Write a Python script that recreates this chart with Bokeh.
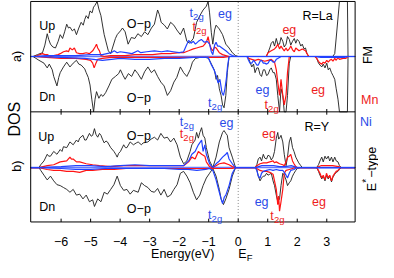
import numpy as np
from bokeh.plotting import figure
from bokeh.models import Range1d, Label
from bokeh.core.properties import value
from bokeh.embed import file_html
from bokeh.resources import INLINE

# ---------------- data (energy in eV, DOS in arbitrary units) ----------------
TICKS = [-6, -5, -4, -3, -2, -1, 0, 1, 2, 3]
TICK_LABELS = ["\u22126", "\u22125", "\u22124", "\u22123", "\u22122", "\u22121", "0", "1", "2", "3"]

# panel a) R=La, FM
A_TOT_UP = [(-6.95,0),(-6.80,2),(-6.63,4),(-6.55,12),(-6.47,24),(-6.42,18),(-6.36,13),(-6.28,10),(-6.19,9),(-6.10,16),
    (-6.03,23),(-5.95,19),(-5.88,26),(-5.81,34),(-5.75,30),(-5.70,31),(-5.62,27),(-5.55,29),(-5.48,23),(-5.40,30),
    (-5.32,36),(-5.25,33),(-5.20,39),(-5.15,43),(-5.08,40),(-5.02,48),(-4.95,46),(-4.90,52),(-4.85,54),(-4.78,62),
    (-4.72,50),(-4.65,43),(-4.58,30),(-4.54,23),(-4.45,12),(-4.40,6),(-4.32,3),(-4.25,10),(-4.16,19),(-4.10,23),
    (-3.99,27),(-3.92,30),(-3.83,26),(-3.73,13),(-3.62,20),(-3.50,19),(-3.40,24),(-3.28,21),(-3.17,26),(-3.06,23),
    (-2.94,30),(-2.84,34),(-2.73,49),(-2.67,44),(-2.61,36),(-2.50,33),(-2.40,29),(-2.29,36),(-2.18,33),(-2.08,28),
    (-1.96,23),(-1.85,30),(-1.74,16),(-1.65,14),(-1.52,19),(-1.41,36),(-1.30,43),(-1.19,49),(-1.08,53),(-1.02,60),
    (-0.97,46),(-0.91,25),(-0.86,13),(-0.80,28),(-0.75,33),(-0.64,29),(-0.53,23),(-0.42,13),(-0.31,9),(-0.20,4),
    (-0.09,1),(0.0,0),(0.95,0),(1.01,4),(1.07,9),(1.12,14),(1.18,16),(1.23,11),(1.29,19),(1.34,13),(1.40,13),
    (1.45,20),(1.51,16),(1.56,10),(1.62,13),(1.67,21),(1.73,18),(1.78,12),(1.84,16),(1.90,19),(1.95,14),(2.00,18),
    (2.06,16),(2.12,11),(2.17,13),(2.23,8),(2.28,9),(2.33,3),(2.39,0),(3.20,0),(3.27,3),(3.35,30),(3.43,62),
    (3.70,62),(3.72,0),(3.96,0)]
A_TOT_DN = [(-6.95,0),(-6.85,-2),(-6.75,-4),(-6.58,-7),(-6.47,-12),(-6.40,-8),(-6.30,-14),(-6.25,-21),(-6.14,-31),
    (-6.08,-22),(-6.03,-17),(-5.92,-11),(-5.81,-6),(-5.70,-11),(-5.59,-7),(-5.48,-4),(-5.40,-8),(-5.32,-9),(-5.20,-13),
    (-5.15,-17),(-5.08,-22),(-5.02,-30),(-4.96,-45),(-4.90,-65),(-4.85,-45),(-4.80,-37),(-4.72,-44),(-4.65,-40),
    (-4.58,-42),(-4.49,-38),(-4.38,-31),(-4.28,-24),(-4.16,-21),(-4.05,-18),(-3.99,-14),(-3.90,-20),(-3.83,-24),
    (-3.72,-18),(-3.61,-21),(-3.50,-14),(-3.40,-18),(-3.28,-24),(-3.17,-16),(-3.06,-11),(-2.94,-17),(-2.84,-14),
    (-2.73,-21),(-2.62,-27),(-2.51,-31),(-2.40,-41),(-2.29,-36),(-2.18,-27),(-2.08,-22),(-1.96,-11),(-1.85,-17),
    (-1.74,-21),(-1.63,-14),(-1.55,-6),(-1.45,-2),(-1.30,-1),(-1.10,-1),(-1.00,-2),(-0.97,-4),(-0.86,-11),(-0.80,-15),
    (-0.75,-24),(-0.70,-20),(-0.64,-34),(-0.58,-41),(-0.53,-51),(-0.48,-54),(-0.42,-41),(-0.37,-17),(-0.31,0),
    (0.30,0),(0.35,-2),(0.40,-6),(0.46,-11),(0.52,-8),(0.57,-17),(0.63,-12),(0.68,-12),(0.74,-19),(0.79,-21),
    (0.85,-14),(0.90,-14),(0.96,-20),(1.01,-19),(1.07,-14),(1.12,-12),(1.18,-17),(1.23,-17),(1.29,-24),(1.34,-41),
    (1.40,-65),(1.45,-34),(1.51,-41),(1.56,-65),(1.62,-65),(1.67,-41),(1.73,-7),(1.78,0),(2.60,0),(2.66,-2),
    (2.72,-7),(2.77,-9),(2.83,-11),(2.88,-8),(2.94,-12),(3.00,-7),(3.05,-14),(3.10,-12),(3.16,-17),(3.21,-20),
    (3.27,-24),(3.32,-34),(3.38,-45),(3.43,-65),(3.70,-65),(3.72,0),(3.96,0)]
A_MN_UP = [(-7.03,0),(-6.90,0),(-6.80,1),(-6.63,3),(-6.55,2),(-6.47,2),(-6.36,0),(-6.25,1),(-6.10,2),(-6.03,3),
    (-5.92,5),(-5.81,6),(-5.75,5),(-5.70,9),(-5.62,7),(-5.55,9),(-5.48,4),(-5.37,3),(-5.26,3),(-5.15,4),(-5.04,3),
    (-4.93,6),(-4.85,10),(-4.80,13),(-4.76,9),(-4.70,6),(-4.65,1),(-4.54,0),(-4.32,1),(-4.10,1),(-3.83,1),(-3.50,2),
    (-3.20,2),(-2.90,2),(-2.60,3),(-2.30,3),(-2.00,4),(-1.85,4),(-1.68,6),(-1.52,8),(-1.41,9),(-1.30,10),(-1.19,11),
    (-1.13,13),(-1.07,16),(-1.02,21),(-0.97,13),(-0.91,8),(-0.86,6),(-0.80,10),(-0.75,9),(-0.64,4),(-0.53,2),
    (-0.42,1),(-0.31,0),(0.95,0),(1.01,4),(1.12,6),(1.23,8),(1.29,10),(1.34,13),(1.40,8),(1.45,11),(1.51,8),
    (1.56,6),(1.62,9),(1.67,6),(1.73,8),(1.78,11),(1.84,7),(1.90,5),(1.95,9),(2.06,6),(2.17,8),(2.28,6),(2.33,3),
    (2.39,0),(3.96,0)]
A_MN_DN = [(-7.03,0),(-6.90,0),(-6.50,-1),(-6.00,-2),(-5.50,-2),(-5.15,-3),(-5.00,-4),(-4.93,-7),(-4.88,-12),
    (-4.82,-7),(-4.76,-3),(-4.60,-2),(-4.30,-1),(-3.50,-1),(-2.50,-1),(-1.50,-1),(-1.00,-1),(-0.50,-1),(-0.31,0),
    (0.30,0),(0.35,-2),(0.46,-3),(0.57,-4),(0.68,-3),(0.79,-4),(0.90,-5),(1.01,-4),(1.12,-3),(1.23,-6),(1.29,-14),
    (1.34,-27),(1.40,-41),(1.45,-24),(1.51,-41),(1.56,-51),(1.62,-41),(1.67,-17),(1.73,0),(2.60,0),(2.66,-2),
    (2.72,-5),(2.77,-7),(2.83,-8),(2.88,-6),(2.94,-7),(3.00,-4),(3.05,-6),(3.10,-4),(3.16,-3),(3.21,-5),(3.27,-2),
    (3.32,-4),(3.38,-1),(3.43,-3),(3.55,-2),(3.65,-2),(3.72,0),(3.96,0)]
A_NI_UP = [(-7.03,0),(-6.90,0),(-6.50,1),(-6.00,1),(-5.50,1),(-5.00,2),(-4.60,2),(-4.30,4),(-4.20,6),(-4.10,4),
    (-4.00,5),(-3.80,4),(-3.60,3),(-3.40,6),(-3.30,4),(-3.10,5),(-2.84,6),(-2.60,5),(-2.40,6),(-2.20,5),(-2.00,4),
    (-1.85,5),(-1.75,12),(-1.68,17),(-1.60,14),(-1.52,16),(-1.45,13),(-1.35,16),(-1.25,18),(-1.15,15),(-1.05,16),
    (-0.97,13),(-0.91,5),(-0.86,2),(-0.80,12),(-0.75,15),(-0.70,11),(-0.64,11),(-0.55,9),(-0.42,6),(-0.31,3),
    (-0.20,1),(-0.09,0),(3.96,0)]
A_NI_DN = [(-7.03,0),(-6.90,0),(-6.00,-1),(-5.20,-2),(-4.90,-3),(-4.60,-4),(-4.30,-3),(-4.00,-2),(-3.50,-3),
    (-3.00,-3),(-2.50,-2),(-2.00,-2),(-1.50,-1),(-1.02,-1),(-0.92,-8),(-0.82,-14),(-0.75,-20),(-0.68,-28),
    (-0.62,-24),(-0.55,-38),(-0.50,-41),(-0.45,-34),(-0.40,-23),(-0.36,-10),(-0.31,0),(0.30,0),(0.35,-4),(0.40,-7),
    (0.46,-7),(0.52,-4),(0.57,-6),(0.63,-9),(0.68,-9),(0.74,-5),(0.79,-4),(0.85,-7),(0.90,-7),(0.96,-8),(1.01,-7),
    (1.07,-4),(1.12,-4),(1.18,-6),(1.23,-6),(1.29,-3),(1.34,-2),(1.45,0),(2.60,0),(2.80,-1),(3.00,-1),(3.30,-1),
    (3.60,-1),(3.72,0),(3.96,0)]

# panel b) R=Y, E*-type
B_TOT_UP = [(-7.03,0),(-6.75,0),(-6.69,3),(-6.58,7),(-6.47,14),(-6.42,12),(-6.36,12),(-6.25,17),(-6.14,14),(-6.03,19),
    (-5.97,17),(-5.92,22),(-5.81,21),(-5.70,27),(-5.59,24),(-5.48,29),(-5.42,27),(-5.37,31),(-5.26,34),(-5.20,29),
    (-5.15,29),(-5.04,36),(-4.98,33),(-4.93,34),(-4.87,41),(-4.82,35),(-4.76,32),(-4.70,36),(-4.65,34),(-4.60,30),
    (-4.54,26),(-4.48,28),(-4.43,27),(-4.32,21),(-4.21,17),(-4.15,14),(-4.10,11),(-4.05,15),(-3.99,17),(-3.88,24),
    (-3.82,21),(-3.77,21),(-3.66,27),(-3.55,24),(-3.45,26),(-3.39,27),(-3.28,24),(-3.22,26),(-3.06,27),(-2.95,30),
    (-2.84,32),(-2.73,29),(-2.62,36),(-2.51,31),(-2.40,32),(-2.29,27),(-2.18,31),(-2.07,24),(-1.96,11),(-1.85,4),
    (-1.74,7),(-1.63,17),(-1.57,24),(-1.46,29),(-1.41,37),(-1.35,31),(-1.30,37),(-1.24,42),(-1.19,34),(-1.13,31),
    (-1.08,21),(-0.97,7),(-0.86,0),(-0.75,11),(-0.64,27),(-0.53,37),(-0.48,39),(-0.42,36),(-0.37,34),(-0.31,21),
    (-0.20,11),(-0.09,0),(0.58,0),(0.63,3),(0.68,9),(0.74,11),(0.79,7),(0.85,14),(0.90,10),(0.96,9),(1.01,13),
    (1.07,12),(1.12,8),(1.18,11),(1.23,17),(1.29,31),(1.34,37),(1.37,30),(1.40,31),(1.45,34),(1.51,27),(1.56,14),
    (1.62,2),(1.67,11),(1.73,27),(1.78,32),(1.84,21),(1.89,17),(1.95,11),(2.00,8),(2.05,5),(2.12,2),(2.17,0),
    (2.66,0),(2.72,3),(2.77,7),(2.83,11),(2.88,6),(2.94,12),(2.99,9),(3.05,12),(3.10,7),(3.16,11),(3.21,6),
    (3.27,11),(3.32,7),(3.38,6),(3.43,2),(3.49,0),(3.96,0)]
B_TOT_DN = [(-7.03,0),(-6.75,0),(-6.69,-3),(-6.58,-8),(-6.47,-13),(-6.36,-9),(-6.25,-14),(-6.14,-18),(-6.03,-19),
    (-5.92,-21),(-5.81,-23),(-5.70,-26),(-5.59,-23),(-5.48,-29),(-5.37,-28),(-5.26,-33),(-5.15,-29),(-5.04,-36),
    (-4.93,-34),(-4.87,-41),(-4.76,-33),(-4.65,-36),(-4.54,-26),(-4.43,-28),(-4.32,-23),(-4.21,-18),(-4.10,-9),
    (-3.99,-19),(-3.88,-24),(-3.77,-23),(-3.66,-28),(-3.55,-24),(-3.39,-26),(-3.28,-16),(-3.17,-19),(-3.06,-21),
    (-2.95,-25),(-2.84,-26),(-2.73,-22),(-2.62,-29),(-2.51,-23),(-2.40,-31),(-2.29,-29),(-2.18,-23),(-2.07,-18),
    (-1.96,-6),(-1.85,-4),(-1.74,-9),(-1.63,-16),(-1.52,-26),(-1.41,-34),(-1.30,-29),(-1.19,-19),(-1.08,-11),
    (-0.97,-6),(-0.86,-1),(-0.75,-9),(-0.64,-23),(-0.58,-33),(-0.50,-39),(-0.42,-33),(-0.31,-23),(-0.20,-9),
    (-0.09,0),(0.58,0),(0.63,-2),(0.68,-9),(0.74,-14),(0.79,-11),(0.85,-9),(0.90,-9),(0.96,-6),(1.01,-8),(1.07,-7),
    (1.12,-6),(1.18,-14),(1.23,-19),(1.29,-29),(1.34,-36),(1.40,-33),(1.45,-19),(1.51,-6),(1.56,-8),(1.62,-13),
    (1.67,-19),(1.73,-16),(1.78,-14),(1.84,-9),(1.89,-6),(1.95,-3),(2.00,-1),(2.10,0),(2.66,0),(2.72,-4),(2.77,-8),
    (2.83,-12),(2.88,-9),(2.94,-14),(2.99,-8),(3.05,-12),(3.10,-9),(3.16,-15),(3.21,-10),(3.27,-7),(3.32,-5),
    (3.38,-4),(3.43,-2),(3.49,0),(3.96,0)]
B_MN_UP = [(-7.03,0),(-6.75,0),(-6.47,2),(-6.25,3),(-6.03,6),(-5.81,7),(-5.70,11),(-5.65,9),(-5.59,9),(-5.48,6),
    (-5.37,6),(-5.15,4),(-4.93,3),(-4.70,2),(-4.32,1),(-3.88,2),(-3.50,2),(-3.00,2),(-2.50,2),(-2.00,2),(-1.85,2),
    (-1.68,6),(-1.57,11),(-1.46,9),(-1.35,17),(-1.24,14),(-1.13,12),(-1.08,6),(-0.97,1),(-0.86,0),(-0.75,2),
    (-0.64,4),(-0.48,5),(-0.31,3),(-0.20,1),(-0.09,0),(0.58,0),(0.63,2),(0.74,4),(0.85,5),(0.96,5),(1.07,6),
    (1.18,7),(1.23,5),(1.29,6),(1.40,4),(1.51,3),(1.56,2),(1.62,6),(1.67,11),(1.73,12),(1.78,14),(1.84,7),(1.89,4),
    (1.95,1),(2.00,0),(2.66,0),(2.80,2),(3.00,2),(3.20,2),(3.40,1),(3.49,0),(3.96,0)]
B_MN_DN = [(-7.03,0),(-6.75,0),(-6.47,-2),(-6.25,-3),(-6.03,-3),(-5.81,-4),(-5.59,-4),(-5.37,-5),(-5.15,-3),
    (-4.93,-3),(-4.60,-2),(-4.20,-2),(-3.80,-1),(-3.00,-1),(-2.00,-1),(-1.00,-1),(-0.50,-1),(-0.20,-1),(-0.09,0),
    (0.58,0),(0.63,-1),(0.74,-3),(0.85,-4),(0.96,-4),(1.07,-5),(1.18,-7),(1.23,-14),(1.29,-23),(1.34,-39),(1.37,-30),
    (1.40,-46),(1.45,-36),(1.51,-23),(1.56,-6),(1.62,-3),(1.73,-2),(1.84,-1),(1.95,0),(2.66,0),(2.72,-3),(2.77,-6),
    (2.83,-11),(2.88,-8),(2.94,-13),(2.99,-6),(3.05,-11),(3.10,-8),(3.16,-14),(3.21,-9),(3.27,-6),(3.32,-4),
    (3.38,-3),(3.43,-1),(3.49,0),(3.96,0)]
B_NI_UP = [(-7.03,0),(-6.75,0),(-6.00,1),(-5.50,2),(-5.00,2),(-4.50,1),(-4.00,2),(-3.50,3),(-3.00,2),(-2.50,2),
    (-2.00,2),(-1.85,2),(-1.68,7),(-1.57,14),(-1.46,17),(-1.35,24),(-1.24,29),(-1.19,17),(-1.13,24),(-1.08,14),
    (-0.97,4),(-0.86,0),(-0.75,4),(-0.64,7),(-0.53,11),(-0.42,14),(-0.37,16),(-0.31,9),(-0.20,4),(-0.09,0),
    (0.58,0),(0.80,2),(1.00,2),(1.20,2),(1.40,1),(1.60,1),(1.80,2),(2.00,0),(3.96,0)]
B_NI_DN = [(-7.03,0),(-6.75,0),(-6.00,-1),(-5.50,-2),(-5.00,-2),(-4.50,-1),(-4.00,-1),(-3.50,-1),(-2.50,-1),
    (-2.00,-2),(-1.70,-2),(-1.40,-3),(-1.10,-2),(-0.97,-1),(-0.86,-3),(-0.75,-13),(-0.64,-26),(-0.58,-33),
    (-0.53,-38),(-0.47,-31),(-0.42,-29),(-0.31,-19),(-0.20,-6),(-0.09,0),(0.58,0),(0.63,-3),(0.68,-9),(0.74,-11),
    (0.79,-6),(0.85,-4),(0.96,-3),(1.07,-2),(1.18,-3),(1.29,-2),(1.40,-3),(1.51,-3),(1.56,-5),(1.62,-8),(1.67,-11),
    (1.73,-6),(1.78,-3),(1.89,-2),(2.00,0),(3.96,0)]

# ---------------- styling / geometry ----------------
FONT = "Liberation Sans"
BLACK = "#1c1c1c"
RED = "#ff1414"
BLUE = "#2242ff"
RED_T = "#ee1c1c"
BLUE_T = "#2a4ae8"
FS = "12.5px"
FS_SUB = "9.5px"


# reference-pixel helpers -> data coordinates
def ex(px):
    return (px - 246.0) / 30.3


def ya(py):
    return 59.0 - py


def yb(py):
    return 176.0 - py


FR_L, FR_R, FR_T, FR_SEP, FR_B = ex(33), ex(366), 1.0, 117.3, 233.3
Y_END = 276.0

p = figure(width=378, height=262,
           x_range=Range1d(ex(2), ex(390)),
           y_range=Range1d(yb(Y_END), yb(0)),
           output_backend="svg", toolbar_location=None,
           x_axis_location=None, y_axis_location=None,
           min_border_left=0, min_border_right=0, min_border_top=0, min_border_bottom=0)
p.extra_y_ranges = {"a": Range1d(ya(Y_END), ya(0))}
p.grid.visible = False
p.outline_line_color = None
p.background_fill_color = "white"
p.border_fill_color = "white"

A_TOP = ya(FR_T)
A_FLOOR = ya(FR_SEP)

# blue zero lines of both panels (drawn first, under the curves)
p.line([FR_L, FR_R], [0, 0], y_range_name="a", line_color=BLUE, line_width=1.6, line_alpha=0.7)
p.line([FR_L, FR_R], [0, 0], line_color=BLUE, line_width=1.6, line_alpha=0.7)
# Fermi level (dotted)
p.line([0, 0], [yb(FR_B), yb(FR_T)], line_color="#8a8a8a", line_dash="1 2", line_width=1)


def draw(curve, color, width, panel):
    e = np.array([c[0] for c in curve])
    v = np.array([c[1] for c in curve], dtype=float)
    if panel == "a":
        v = np.clip(v, A_FLOOR, A_TOP)
        p.line(e, v, line_color=color, line_width=width, y_range_name="a")
    else:
        p.line(e, v, line_color=color, line_width=width)


for panel, curves in (("a", (A_TOT_UP, A_TOT_DN, A_MN_UP, A_MN_DN, A_NI_UP, A_NI_DN)),
                      ("b", (B_TOT_UP, B_TOT_DN, B_MN_UP, B_MN_DN, B_NI_UP, B_NI_DN))):
    draw(curves[0], BLACK, 0.9, panel)
    draw(curves[1], BLACK, 0.9, panel)
    draw(curves[2], RED, 1.2, panel)
    draw(curves[3], RED, 1.2, panel)
    draw(curves[4], BLUE, 1.2, panel)
    draw(curves[5], BLUE, 1.2, panel)

# panel frames, separator, energy ticks and tick labels
p.quad(left=[FR_L], right=[FR_R], bottom=[yb(FR_B)], top=[yb(FR_T)],
       fill_color=None, line_color="black", line_width=1)
p.line([FR_L, FR_R], [yb(FR_SEP), yb(FR_SEP)], line_color="black", line_width=1)
n = len(TICKS)
p.segment(x0=TICKS, x1=TICKS, y0=[yb(FR_B)] * n, y1=[yb(FR_B - 3.5)] * n, line_color="black", line_width=1)
p.segment(x0=TICKS, x1=TICKS, y0=[yb(FR_SEP + 3)] * n, y1=[yb(FR_SEP - 3)] * n, line_color="black", line_width=1)
p.text(x=TICKS, y=[yb(253.5)] * n, text=TICK_LABELS, text_font=value(FONT), text_font_size=value(FS),
       text_align="center", text_baseline="alphabetic", text_color="black")


def txt(x, y, s, color="black", size=FS, panel="b", align="center", baseline="alphabetic",
        angle=0.0, xo=0, yo=0):
    kw = dict(x=x, y=y, text=s, text_color=color, text_font=FONT, text_font_size=size,
              text_align=align, text_baseline=baseline, angle=angle, x_offset=xo, y_offset=yo)
    if panel == "a":
        kw["y_range_name"] = "a"
    p.add_layout(Label(**kw))


def t2g(xl, ybase, color, panel):
    yv = ya(ybase) if panel == "a" else yb(ybase)
    txt(ex(xl), yv, "t", color, FS, panel, align="left")
    txt(ex(xl), yv, "2g", color, FS_SUB, panel, align="left", xo=3.6, yo=-3.5)


# panel a labels
txt(ex(50), ya(26.5), "Up", panel="a")
txt(ex(144), ya(24.5), "O\u2212p", panel="a")
txt(ex(50), ya(101.5), "Dn", panel="a")
txt(ex(144), ya(103), "O\u2212p", panel="a")
t2g(196, 13, BLUE_T, "a")
t2g(199, 27.5, RED_T, "a")
txt(ex(232.5), ya(14), "eg", BLUE_T, panel="a")
txt(ex(327.5), ya(16), "R=La", panel="a")
txt(ex(298.5), ya(31), "eg", RED_T, panel="a")
txt(ex(271), ya(94.5), "eg", BLUE_T, panel="a")
t2g(273, 110, RED_T, "a")
txt(ex(328), ya(94.5), "eg", RED_T, panel="a")
t2g(215, 108, BLUE_T, "a")

# panel b labels
txt(ex(49), yb(144), "Up")
txt(ex(144), yb(142.5), "O\u2212p")
txt(ex(50), yb(218), "Dn")
txt(ex(144), yb(219.5), "O\u2212p")
t2g(186, 128, BLUE_T, "b")
t2g(186, 140.5, RED_T, "b")
txt(ex(234), yb(129.5), "eg", BLUE_T)
txt(ex(326.7), yb(133), "R=Y")
txt(ex(277.5), yb(141), "eg", RED_T)
txt(ex(270), yb(212.5), "eg", BLUE_T)
t2g(279, 226.5, RED_T, "b")
txt(ex(329), yb(212), "eg", RED_T)
t2g(215, 226, BLUE_T, "b")

# labels around the frames
R90 = np.pi / 2
txt(ex(16.5), yb(125), "DOS", size="16px", baseline="middle", angle=R90)
txt(ex(19), yb(59), "a)", baseline="middle", angle=R90)
txt(ex(19), yb(174.5), "b)", baseline="middle", angle=R90)
txt(ex(379.5), yb(57.5), "FM", baseline="middle", angle=R90)
txt(ex(381), yb(105), "Mn", RED_T, baseline="middle")
txt(ex(377), yb(128), "Ni", BLUE_T, baseline="middle")
txt(ex(383), yb(201), "E", align="left", angle=R90)
txt(ex(383), yb(201), "*", size="10px", align="left", angle=R90, xo=-5, yo=8.6)
txt(ex(383), yb(201), "\u2212type", align="left", angle=R90, yo=13.5)
txt(ex(189), yb(267.5), "Energy(eV)")
txt(ex(246), yb(267), "E", align="left")
txt(ex(246), yb(267), "F", size=FS_SUB, align="left", xo=8.6, yo=-4)

open("out.html", "w").write(file_html(p, INLINE))
